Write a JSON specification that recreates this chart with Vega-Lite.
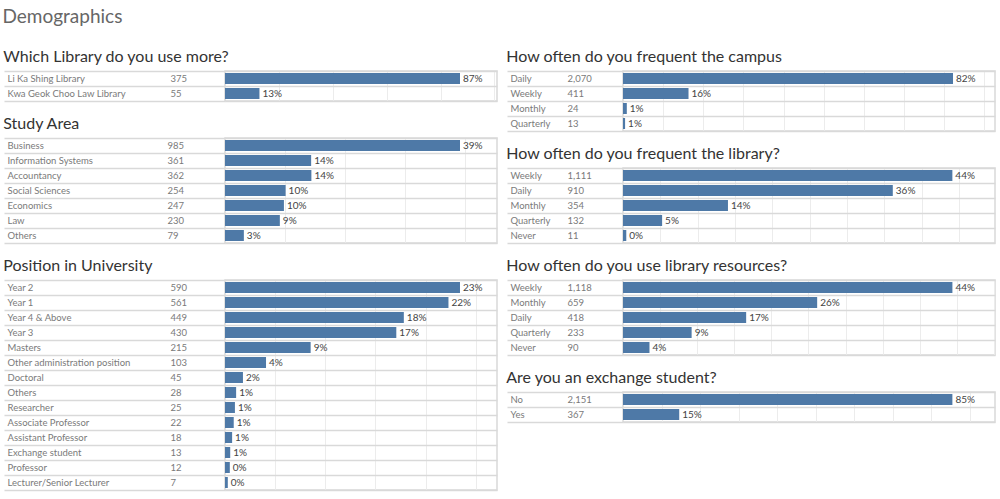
{
  "$schema": "https://vega.github.io/schema/vega-lite/v6.json",
  "autosize": {"type": "pad"},
  "padding": {"left": 2, "top": 8, "right": 0, "bottom": 0},
  "background": "white",
  "title": {"text": "Demographics", "anchor": "start", "fontSize": 19, "font": "Lato", "fontWeight": "normal", "color": "#666666", "baseline": "bottom", "offset": 2},
  "data": {"values": [
    {"q": "lib", "cat": "Li Ka Shing Library", "n": 375, "pct": 0.8721, "ord": 1},
    {"q": "lib", "cat": "Kwa Geok Choo Law Library", "n": 55, "pct": 0.1279, "ord": 2},
    {"q": "study", "cat": "Business", "n": 985, "pct": 0.3912, "ord": 1},
    {"q": "study", "cat": "Information Systems", "n": 361, "pct": 0.1434, "ord": 2},
    {"q": "study", "cat": "Accountancy", "n": 362, "pct": 0.1438, "ord": 3},
    {"q": "study", "cat": "Social Sciences", "n": 254, "pct": 0.1009, "ord": 4},
    {"q": "study", "cat": "Economics", "n": 247, "pct": 0.0981, "ord": 5},
    {"q": "study", "cat": "Law", "n": 230, "pct": 0.0913, "ord": 6},
    {"q": "study", "cat": "Others", "n": 79, "pct": 0.0314, "ord": 7},
    {"q": "pos", "cat": "Year 2", "n": 590, "pct": 0.2343, "ord": 1},
    {"q": "pos", "cat": "Year 1", "n": 561, "pct": 0.2228, "ord": 2},
    {"q": "pos", "cat": "Year 4 & Above", "n": 449, "pct": 0.1783, "ord": 3},
    {"q": "pos", "cat": "Year 3", "n": 430, "pct": 0.1708, "ord": 4},
    {"q": "pos", "cat": "Masters", "n": 215, "pct": 0.0854, "ord": 5},
    {"q": "pos", "cat": "Other administration position", "n": 103, "pct": 0.0409, "ord": 6},
    {"q": "pos", "cat": "Doctoral", "n": 45, "pct": 0.0179, "ord": 7},
    {"q": "pos", "cat": "Others", "n": 28, "pct": 0.0111, "ord": 8},
    {"q": "pos", "cat": "Researcher", "n": 25, "pct": 0.0099, "ord": 9},
    {"q": "pos", "cat": "Associate Professor", "n": 22, "pct": 0.0087, "ord": 10},
    {"q": "pos", "cat": "Assistant Professor", "n": 18, "pct": 0.0071, "ord": 11},
    {"q": "pos", "cat": "Exchange student", "n": 13, "pct": 0.0052, "ord": 12},
    {"q": "pos", "cat": "Professor", "n": 12, "pct": 0.0048, "ord": 13},
    {"q": "pos", "cat": "Lecturer/Senior Lecturer", "n": 7, "pct": 0.0028, "ord": 14},
    {"q": "campus", "cat": "Daily", "n": 2070, "pct": 0.8221, "ord": 1},
    {"q": "campus", "cat": "Weekly", "n": 411, "pct": 0.1632, "ord": 2},
    {"q": "campus", "cat": "Monthly", "n": 24, "pct": 0.0095, "ord": 3},
    {"q": "campus", "cat": "Quarterly", "n": 13, "pct": 0.0052, "ord": 4},
    {"q": "libfreq", "cat": "Weekly", "n": 1111, "pct": 0.4412, "ord": 1},
    {"q": "libfreq", "cat": "Daily", "n": 910, "pct": 0.3614, "ord": 2},
    {"q": "libfreq", "cat": "Monthly", "n": 354, "pct": 0.1406, "ord": 3},
    {"q": "libfreq", "cat": "Quarterly", "n": 132, "pct": 0.0524, "ord": 4},
    {"q": "libfreq", "cat": "Never", "n": 11, "pct": 0.0044, "ord": 5},
    {"q": "res", "cat": "Weekly", "n": 1118, "pct": 0.444, "ord": 1},
    {"q": "res", "cat": "Monthly", "n": 659, "pct": 0.2617, "ord": 2},
    {"q": "res", "cat": "Daily", "n": 418, "pct": 0.166, "ord": 3},
    {"q": "res", "cat": "Quarterly", "n": 233, "pct": 0.0925, "ord": 4},
    {"q": "res", "cat": "Never", "n": 90, "pct": 0.0357, "ord": 5},
    {"q": "exch", "cat": "No", "n": 2151, "pct": 0.8542, "ord": 1},
    {"q": "exch", "cat": "Yes", "n": 367, "pct": 0.1458, "ord": 2}
  ]},
  "spacing": 7,
  "hconcat": [
    {
      "spacing": 12,
      "vconcat": [
        {
          "title": "Which Library do you use more?",
          "transform": [{"filter": "datum.q == 'lib'"}],
          "width": 272, "height": 30,
          "resolve": {"scale": {"y": "independent"}},
          "layer": [
            {"mark": {"type": "bar", "size": 11, "color": "#4e79a7"},
             "encoding": {
               "y": {"field": "cat", "type": "nominal", "sort": {"field": "ord", "op": "min"}, "scale": {"paddingInner": 0, "paddingOuter": 0},
                     "axis": {"title": null, "orient": "left", "tickBand": "extent", "tickSize": 221, "labelPadding": -3, "labelAlign": "left", "grid": true, "domain": false}},
               "x": {"field": "pct", "type": "quantitative", "scale": {"domain": [0, 1.0094], "nice": false},
                     "axis": {"values": [0.2, 0.4, 0.6, 0.8, 1.0], "labels": false, "ticks": false, "domain": false, "title": null, "grid": true}}
             }},
            {"mark": {"type": "text", "align": "left", "dx": 3, "baseline": "middle"},
             "encoding": {
               "y": {"field": "n", "type": "nominal", "sort": {"field": "ord", "op": "min"}, "scale": {"paddingInner": 0, "paddingOuter": 0},
                     "axis": {"title": null, "orient": "left", "ticks": false, "grid": false, "domain": false, "labelPadding": 55, "labelAlign": "left", "labelExpr": "format(datum.value, ',')"}},
               "x": {"field": "pct", "type": "quantitative"},
               "text": {"field": "pct", "format": ".0%"}
             }}
          ]
        },
        {
          "title": "Study Area",
          "transform": [{"filter": "datum.q == 'study'"}],
          "width": 272, "height": 105,
          "resolve": {"scale": {"y": "independent"}},
          "layer": [
            {"mark": {"type": "bar", "size": 11, "color": "#4e79a7"},
             "encoding": {
               "y": {"field": "cat", "type": "nominal", "sort": {"field": "ord", "op": "min"}, "scale": {"paddingInner": 0, "paddingOuter": 0},
                     "axis": {"title": null, "orient": "left", "tickBand": "extent", "tickSize": 221, "labelPadding": -3, "labelAlign": "left", "grid": true, "domain": false}},
               "x": {"field": "pct", "type": "quantitative", "scale": {"domain": [0, 0.4528], "nice": false},
                     "axis": {"values": [0.1, 0.2, 0.3, 0.4], "labels": false, "ticks": false, "domain": false, "title": null, "grid": true}}
             }},
            {"mark": {"type": "text", "align": "left", "dx": 3, "baseline": "middle"},
             "encoding": {
               "y": {"field": "n", "type": "nominal", "sort": {"field": "ord", "op": "min"}, "scale": {"paddingInner": 0, "paddingOuter": 0},
                     "axis": {"title": null, "orient": "left", "ticks": false, "grid": false, "domain": false, "labelPadding": 58, "labelAlign": "left", "labelExpr": "format(datum.value, ',')"}},
               "x": {"field": "pct", "type": "quantitative"},
               "text": {"field": "pct", "format": ".0%"}
             }}
          ]
        },
        {
          "title": "Position in University",
          "transform": [{"filter": "datum.q == 'pos'"}],
          "width": 272, "height": 210,
          "resolve": {"scale": {"y": "independent"}},
          "layer": [
            {"mark": {"type": "bar", "size": 11, "color": "#4e79a7"},
             "encoding": {
               "y": {"field": "cat", "type": "nominal", "sort": {"field": "ord", "op": "min"}, "scale": {"paddingInner": 0, "paddingOuter": 0},
                     "axis": {"title": null, "orient": "left", "tickBand": "extent", "tickSize": 221, "labelPadding": -3, "labelAlign": "left", "grid": true, "domain": false}},
               "x": {"field": "pct", "type": "quantitative", "scale": {"domain": [0, 0.2712], "nice": false},
                     "axis": {"values": [0.05, 0.1, 0.15, 0.2, 0.25], "labels": false, "ticks": false, "domain": false, "title": null, "grid": true}}
             }},
            {"mark": {"type": "text", "align": "left", "dx": 3, "baseline": "middle"},
             "encoding": {
               "y": {"field": "n", "type": "nominal", "sort": {"field": "ord", "op": "min"}, "scale": {"paddingInner": 0, "paddingOuter": 0},
                     "axis": {"title": null, "orient": "left", "ticks": false, "grid": false, "domain": false, "labelPadding": 55, "labelAlign": "left", "labelExpr": "format(datum.value, ',')"}},
               "x": {"field": "pct", "type": "quantitative"},
               "text": {"field": "pct", "format": ".0%"}
             }}
          ]
        }
      ]
    },
    {
      "spacing": 12,
      "vconcat": [
        {
          "title": "How often do you frequent the campus",
          "transform": [{"filter": "datum.q == 'campus'"}],
          "width": 372, "height": 60,
          "resolve": {"scale": {"y": "independent"}},
          "layer": [
            {"mark": {"type": "bar", "size": 11, "color": "#4e79a7"},
             "encoding": {
               "y": {"field": "cat", "type": "nominal", "sort": {"field": "ord", "op": "min"}, "scale": {"paddingInner": 0, "paddingOuter": 0},
                     "axis": {"title": null, "orient": "left", "tickBand": "extent", "tickSize": 116, "labelPadding": -3, "labelAlign": "left", "grid": true, "domain": false}},
               "x": {"field": "pct", "type": "quantitative", "scale": {"domain": [0, 0.9267], "nice": false},
                     "axis": {"values": [0.1, 0.2, 0.3, 0.4, 0.5, 0.6, 0.7, 0.8, 0.9], "labels": false, "ticks": false, "domain": false, "title": null, "grid": true}}
             }},
            {"mark": {"type": "text", "align": "left", "dx": 3, "baseline": "middle"},
             "encoding": {
               "y": {"field": "n", "type": "nominal", "sort": {"field": "ord", "op": "min"}, "scale": {"paddingInner": 0, "paddingOuter": 0},
                     "axis": {"title": null, "orient": "left", "ticks": false, "grid": false, "domain": false, "labelPadding": 56, "labelAlign": "left", "labelExpr": "format(datum.value, ',')"}},
               "x": {"field": "pct", "type": "quantitative"},
               "text": {"field": "pct", "format": ".0%"}
             }}
          ]
        },
        {
          "title": "How often do you frequent the library?",
          "transform": [{"filter": "datum.q == 'libfreq'"}],
          "width": 372, "height": 75,
          "resolve": {"scale": {"y": "independent"}},
          "layer": [
            {"mark": {"type": "bar", "size": 11, "color": "#4e79a7"},
             "encoding": {
               "y": {"field": "cat", "type": "nominal", "sort": {"field": "ord", "op": "min"}, "scale": {"paddingInner": 0, "paddingOuter": 0},
                     "axis": {"title": null, "orient": "left", "tickBand": "extent", "tickSize": 116, "labelPadding": -3, "labelAlign": "left", "grid": true, "domain": false}},
               "x": {"field": "pct", "type": "quantitative", "scale": {"domain": [0, 0.4983], "nice": false},
                     "axis": {"values": [0.05, 0.1, 0.15, 0.2, 0.25, 0.3, 0.35, 0.4, 0.45], "labels": false, "ticks": false, "domain": false, "title": null, "grid": true}}
             }},
            {"mark": {"type": "text", "align": "left", "dx": 3, "baseline": "middle"},
             "encoding": {
               "y": {"field": "n", "type": "nominal", "sort": {"field": "ord", "op": "min"}, "scale": {"paddingInner": 0, "paddingOuter": 0},
                     "axis": {"title": null, "orient": "left", "ticks": false, "grid": false, "domain": false, "labelPadding": 56, "labelAlign": "left", "labelExpr": "format(datum.value, ',')"}},
               "x": {"field": "pct", "type": "quantitative"},
               "text": {"field": "pct", "format": ".0%"}
             }}
          ]
        },
        {
          "title": "How often do you use library resources?",
          "transform": [{"filter": "datum.q == 'res'"}],
          "width": 372, "height": 75,
          "resolve": {"scale": {"y": "independent"}},
          "layer": [
            {"mark": {"type": "bar", "size": 11, "color": "#4e79a7"},
             "encoding": {
               "y": {"field": "cat", "type": "nominal", "sort": {"field": "ord", "op": "min"}, "scale": {"paddingInner": 0, "paddingOuter": 0},
                     "axis": {"title": null, "orient": "left", "tickBand": "extent", "tickSize": 116, "labelPadding": -3, "labelAlign": "left", "grid": true, "domain": false}},
               "x": {"field": "pct", "type": "quantitative", "scale": {"domain": [0, 0.5014], "nice": false},
                     "axis": {"values": [0.05, 0.1, 0.15, 0.2, 0.25, 0.3, 0.35, 0.4, 0.45, 0.5], "labels": false, "ticks": false, "domain": false, "title": null, "grid": true}}
             }},
            {"mark": {"type": "text", "align": "left", "dx": 3, "baseline": "middle"},
             "encoding": {
               "y": {"field": "n", "type": "nominal", "sort": {"field": "ord", "op": "min"}, "scale": {"paddingInner": 0, "paddingOuter": 0},
                     "axis": {"title": null, "orient": "left", "ticks": false, "grid": false, "domain": false, "labelPadding": 56, "labelAlign": "left", "labelExpr": "format(datum.value, ',')"}},
               "x": {"field": "pct", "type": "quantitative"},
               "text": {"field": "pct", "format": ".0%"}
             }}
          ]
        },
        {
          "title": "Are you an exchange student?",
          "transform": [{"filter": "datum.q == 'exch'"}],
          "width": 372, "height": 30,
          "resolve": {"scale": {"y": "independent"}},
          "layer": [
            {"mark": {"type": "bar", "size": 11, "color": "#4e79a7"},
             "encoding": {
               "y": {"field": "cat", "type": "nominal", "sort": {"field": "ord", "op": "min"}, "scale": {"paddingInner": 0, "paddingOuter": 0},
                     "axis": {"title": null, "orient": "left", "tickBand": "extent", "tickSize": 116, "labelPadding": -3, "labelAlign": "left", "grid": true, "domain": false}},
               "x": {"field": "pct", "type": "quantitative", "scale": {"domain": [0, 0.9647], "nice": false},
                     "axis": {"values": [0.1, 0.2, 0.3, 0.4, 0.5, 0.6, 0.7, 0.8, 0.9], "labels": false, "ticks": false, "domain": false, "title": null, "grid": true}}
             }},
            {"mark": {"type": "text", "align": "left", "dx": 3, "baseline": "middle"},
             "encoding": {
               "y": {"field": "n", "type": "nominal", "sort": {"field": "ord", "op": "min"}, "scale": {"paddingInner": 0, "paddingOuter": 0},
                     "axis": {"title": null, "orient": "left", "ticks": false, "grid": false, "domain": false, "labelPadding": 56, "labelAlign": "left", "labelExpr": "format(datum.value, ',')"}},
               "x": {"field": "pct", "type": "quantitative"},
               "text": {"field": "pct", "format": ".0%"}
             }}
          ]
        }
      ]
    }
  ],
  "config": {
    "font": "Lato",
    "view": {"stroke": "#d9d9d9", "strokeWidth": 1.5},
    "title": {"font": "Lato", "fontSize": 16, "fontWeight": "normal", "color": "#333333", "anchor": "start", "baseline": "bottom", "offset": 1},
    "axis": {"labelFont": "Lato", "labelFontSize": 9.5, "labelColor": "#7a7a7a", "tickColor": "#d9d9d9", "tickWidth": 1.5, "gridColor": "#ececec", "gridWidth": 1, "labelLimit": 200},
    "axisY": {"gridColor": "#d9d9d9", "gridWidth": 1.5},
    "text": {"font": "Lato", "fontSize": 10, "color": "#444444"}
  }
}
